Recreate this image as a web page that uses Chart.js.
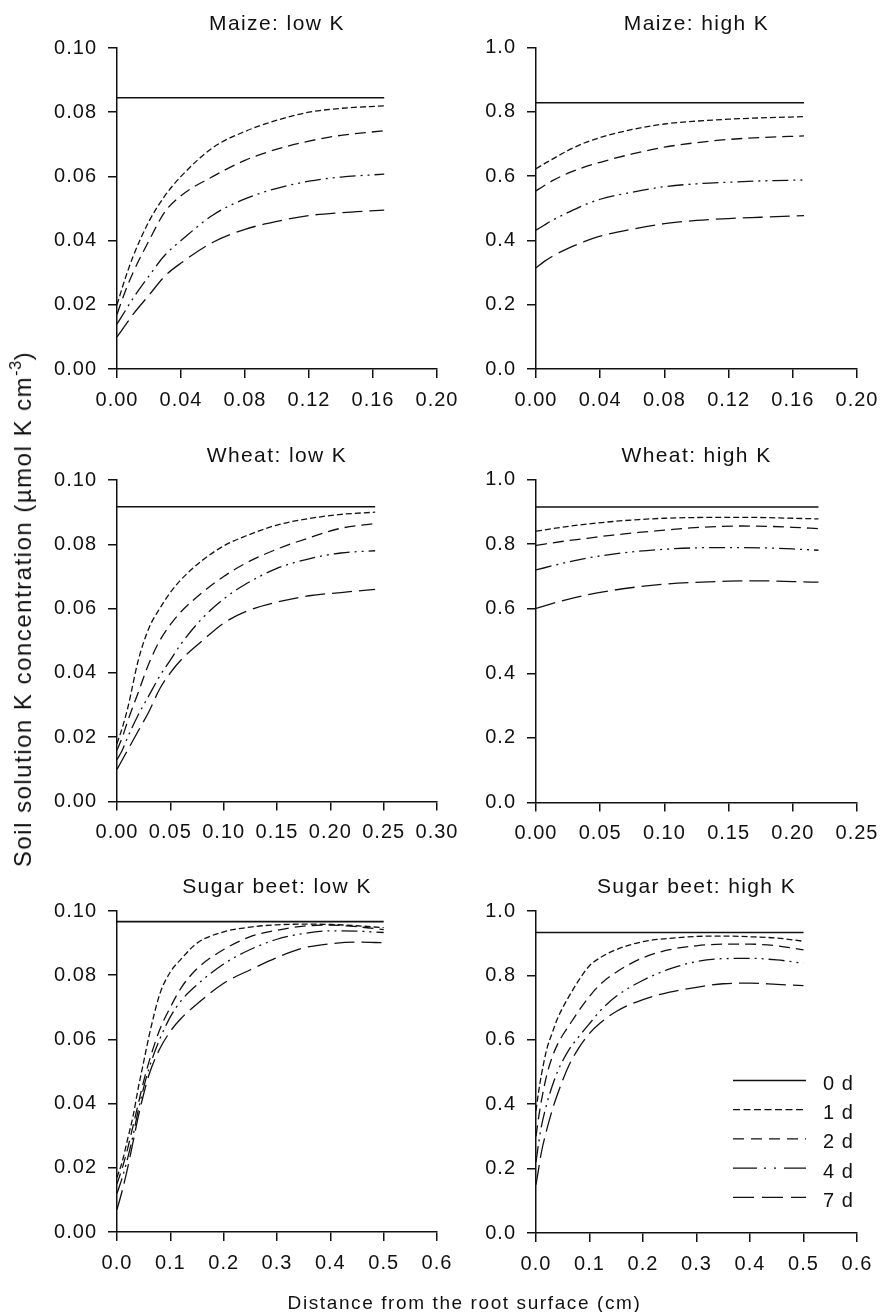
<!DOCTYPE html>
<html>
<head>
<meta charset="utf-8">
<script src="https://cdn.jsdelivr.net/npm/chart.js@4.4.1/dist/chart.umd.min.js"></script>
<style>
html,body{margin:0;padding:0;background:#fff;}
#wrap{position:relative;width:881px;height:1312px;overflow:hidden;background:#fff;}
#wrap canvas{position:absolute;}
.lbl{position:absolute;z-index:5;font-family:"Liberation Sans",Arial,sans-serif;color:#111;white-space:nowrap;line-height:1;}
#xlab{font-size:19px;letter-spacing:1.6px;left:464.5px;top:1292.5px;transform:translateX(-50%);}
#ylab{font-size:24px;letter-spacing:1.5px;left:23.4px;top:609px;transform:translate(-50%,-50%) rotate(-90deg);}
#ylab sup{font-size:0.68em;line-height:0;vertical-align:0.62em;letter-spacing:0.5px;}
</style>
</head>
<body>
<div id="wrap">
  <canvas id="c1" width="470" height="430"></canvas>
  <canvas id="c2" width="441" height="430"></canvas>
  <canvas id="c3" width="470" height="430"></canvas>
  <canvas id="c4" width="441" height="430"></canvas>
  <canvas id="c5" width="470" height="440"></canvas>
  <canvas id="c6" width="441" height="440"></canvas>
  <div class="lbl" id="xlab">Distance from the root surface (cm)</div>
  <div class="lbl" id="ylab">Soil solution K concentration (µmol K cm<sup>-3</sup>)</div>
</div>
<script>
// ---------------- DATA ----------------
const seriesNames = ['0 d', '1 d', '2 d', '4 d', '7 d'];

// Maize
const maizeX = [0, 0.005, 0.01, 0.02, 0.03, 0.04, 0.06, 0.08, 0.10, 0.12, 0.14, 0.167];
const maizeLow0d = [0.0845, 0.0845, 0.0845, 0.0845, 0.0845, 0.0845, 0.0845, 0.0845, 0.0845, 0.0845, 0.0845, 0.0845];
const maizeLow1d = [0.020, 0.028, 0.035, 0.046, 0.054, 0.060, 0.069, 0.074, 0.0775, 0.0800, 0.0812, 0.0820];
const maizeLow2d = [0.017, 0.024, 0.030, 0.040, 0.049, 0.054, 0.060, 0.065, 0.0685, 0.0710, 0.0728, 0.0742];
const maizeLow4d = [0.014, 0.018, 0.022, 0.029, 0.0355, 0.040, 0.048, 0.053, 0.0563, 0.0585, 0.0598, 0.0607];
const maizeLow7d = [0.010, 0.0135, 0.017, 0.023, 0.029, 0.033, 0.0395, 0.0435, 0.0460, 0.0478, 0.0487, 0.0495];

const maizeHigh0d = [0.828, 0.828, 0.828, 0.828, 0.828, 0.828, 0.828, 0.828, 0.828, 0.828, 0.828, 0.828];
const maizeHigh1d = [0.623, 0.638, 0.652, 0.680, 0.703, 0.720, 0.745, 0.762, 0.771, 0.777, 0.781, 0.785];
const maizeHigh2d = [0.554, 0.570, 0.585, 0.609, 0.628, 0.643, 0.669, 0.690, 0.704, 0.714, 0.720, 0.725];
const maizeHigh4d = [0.432, 0.447, 0.462, 0.487, 0.510, 0.528, 0.550, 0.567, 0.576, 0.581, 0.585, 0.588];
const maizeHigh7d = [0.315, 0.334, 0.350, 0.375, 0.396, 0.413, 0.435, 0.452, 0.462, 0.468, 0.472, 0.477];

// Wheat
const wheatLowX = [0, 0.005, 0.01, 0.02, 0.03, 0.04, 0.05, 0.06, 0.08, 0.10, 0.12, 0.15, 0.18, 0.21, 0.242];
const wheatLow0d = [0.0917, 0.0917, 0.0917, 0.0917, 0.0917, 0.0917, 0.0917, 0.0917, 0.0917, 0.0917, 0.0917, 0.0917, 0.0917, 0.0917, 0.0917];
const wheatLow1d = [0.018, 0.023, 0.029, 0.044, 0.054, 0.060, 0.065, 0.069, 0.075, 0.0795, 0.0825, 0.0860, 0.0880, 0.0893, 0.0900];
const wheatLow2d = [0.016, 0.020, 0.025, 0.034, 0.043, 0.050, 0.055, 0.059, 0.065, 0.0700, 0.0740, 0.0785, 0.0820, 0.0850, 0.0865];
const wheatLow4d = [0.013, 0.016, 0.020, 0.027, 0.033, 0.039, 0.044, 0.049, 0.057, 0.0630, 0.0675, 0.0725, 0.0755, 0.0773, 0.0780];
const wheatLow7d = [0.010, 0.013, 0.016, 0.022, 0.028, 0.035, 0.040, 0.044, 0.050, 0.0555, 0.0590, 0.0620, 0.0640, 0.0650, 0.0660];

const wheatHighX = [0, 0.02, 0.04, 0.06, 0.08, 0.10, 0.12, 0.14, 0.16, 0.18, 0.20, 0.22];
const wheatHigh0d = [0.915, 0.915, 0.915, 0.915, 0.915, 0.915, 0.915, 0.915, 0.915, 0.915, 0.915, 0.915];
const wheatHigh1d = [0.840, 0.852, 0.862, 0.870, 0.876, 0.880, 0.882, 0.883, 0.883, 0.882, 0.880, 0.878];
const wheatHigh2d = [0.796, 0.808, 0.818, 0.828, 0.836, 0.843, 0.850, 0.854, 0.856, 0.855, 0.852, 0.848];
const wheatHigh4d = [0.720, 0.740, 0.757, 0.769, 0.778, 0.784, 0.788, 0.789, 0.789, 0.788, 0.785, 0.781];
const wheatHigh7d = [0.601, 0.624, 0.643, 0.657, 0.668, 0.676, 0.681, 0.684, 0.686, 0.686, 0.684, 0.682];

// Sugar beet
const beetLowX = [0, 0.01, 0.02, 0.03, 0.04, 0.05, 0.06, 0.08, 0.10, 0.12, 0.15, 0.20, 0.25, 0.30, 0.35, 0.40, 0.45, 0.50];
const beetLow0d = [0.0967, 0.0967, 0.0967, 0.0967, 0.0967, 0.0967, 0.0967, 0.0967, 0.0967, 0.0967, 0.0967, 0.0967, 0.0967, 0.0967, 0.0967, 0.0967, 0.0967, 0.0967];
const beetLow1d = [0.017, 0.022, 0.029, 0.036, 0.045, 0.053, 0.061, 0.074, 0.081, 0.085, 0.090, 0.0935, 0.0950, 0.0957, 0.0959, 0.0958, 0.0954, 0.0948];
const beetLow2d = [0.015, 0.020, 0.026, 0.033, 0.040, 0.047, 0.053, 0.063, 0.070, 0.076, 0.082, 0.0880, 0.0920, 0.0940, 0.0953, 0.0956, 0.0951, 0.0942];
const beetLow4d = [0.012, 0.017, 0.023, 0.030, 0.038, 0.045, 0.051, 0.060, 0.067, 0.072, 0.077, 0.0835, 0.0880, 0.0912, 0.0930, 0.0938, 0.0937, 0.0933];
const beetLow7d = [0.007, 0.013, 0.020, 0.028, 0.036, 0.043, 0.049, 0.057, 0.0625, 0.0665, 0.0710, 0.0775, 0.0817, 0.0855, 0.0885, 0.0898, 0.0903, 0.0901];

const beetHighX = [0, 0.005, 0.01, 0.02, 0.03, 0.04, 0.05, 0.06, 0.08, 0.10, 0.12, 0.15, 0.20, 0.25, 0.30, 0.35, 0.40, 0.45, 0.50];
const beetHigh0d = [0.933, 0.933, 0.933, 0.933, 0.933, 0.933, 0.933, 0.933, 0.933, 0.933, 0.933, 0.933, 0.933, 0.933, 0.933, 0.933, 0.933, 0.933, 0.933];
const beetHigh1d = [0.38, 0.44, 0.49, 0.57, 0.62, 0.665, 0.70, 0.73, 0.785, 0.83, 0.855, 0.88, 0.905, 0.915, 0.921, 0.922, 0.920, 0.916, 0.906];
const beetHigh2d = [0.30, 0.36, 0.41, 0.49, 0.545, 0.585, 0.615, 0.64, 0.69, 0.735, 0.772, 0.81, 0.855, 0.88, 0.892, 0.897, 0.897, 0.892, 0.879];
const beetHigh4d = [0.22, 0.28, 0.33, 0.40, 0.455, 0.50, 0.535, 0.565, 0.61, 0.65, 0.69, 0.735, 0.785, 0.82, 0.843, 0.852, 0.853, 0.848, 0.838];
const beetHigh7d = [0.15, 0.20, 0.25, 0.32, 0.38, 0.43, 0.475, 0.515, 0.575, 0.62, 0.652, 0.688, 0.725, 0.748, 0.763, 0.774, 0.776, 0.772, 0.768];

// Tick labels
const yTicksLow  = ['0.00', '0.02', '0.04', '0.06', '0.08', '0.10'];
const yTicksHigh = ['0.0', '0.2', '0.4', '0.6', '0.8', '1.0'];
const xTicksMaize = ['0.00', '0.04', '0.08', '0.12', '0.16', '0.20'];
const xTicksWheatLow = ['0.00', '0.05', '0.10', '0.15', '0.20', '0.25', '0.30'];
const xTicksWheatHigh = ['0.00', '0.05', '0.10', '0.15', '0.20', '0.25'];
const xTicksBeet = ['0.0', '0.1', '0.2', '0.3', '0.4', '0.5', '0.6'];

// ---------------- STYLE / LAYOUT ----------------
const FONT = '"Liberation Sans", Arial, Helvetica, sans-serif';
const INK = '#111111';
const dashes = [[], [6, 3], [11, 6], [16, 5, 2, 5, 2, 5], [20, 7]];
const legendDashes = [[], [7, 3.5], [11, 7], [24, 7, 2, 8, 2, 8], [21, 8]];
const widths = [1.6, 1.3, 1.3, 1.3, 1.3];

const panels = [
  {id: 'c1', title: 'Maize: low K', x: maizeX, ys: [maizeLow0d, maizeLow1d, maizeLow2d, maizeLow4d, maizeLow7d],
   xt: xTicksMaize, yt: yTicksLow, cv: {x: 0, y: 0, w: 470, h: 430}, plot: {l: 117, t: 48, r: 437, b: 369}},
  {id: 'c2', title: 'Maize: high K', x: maizeX, ys: [maizeHigh0d, maizeHigh1d, maizeHigh2d, maizeHigh4d, maizeHigh7d],
   xt: xTicksMaize, yt: yTicksHigh, cv: {x: 440, y: 0, w: 441, h: 430}, plot: {l: 536, t: 47.5, r: 857, b: 369}},
  {id: 'c3', title: 'Wheat: low K', x: wheatLowX, ys: [wheatLow0d, wheatLow1d, wheatLow2d, wheatLow4d, wheatLow7d],
   xt: xTicksWheatLow, yt: yTicksLow, cv: {x: 0, y: 430, w: 470, h: 430}, plot: {l: 117, t: 480, r: 437, b: 801.5}},
  {id: 'c4', title: 'Wheat: high K', x: wheatHighX, ys: [wheatHigh0d, wheatHigh1d, wheatHigh2d, wheatHigh4d, wheatHigh7d],
   xt: xTicksWheatHigh, yt: yTicksHigh, cv: {x: 440, y: 430, w: 441, h: 430}, plot: {l: 536, t: 479.5, r: 857, b: 802.5}},
  {id: 'c5', title: 'Sugar beet: low K', x: beetLowX, ys: [beetLow0d, beetLow1d, beetLow2d, beetLow4d, beetLow7d],
   xt: xTicksBeet, yt: yTicksLow, cv: {x: 0, y: 860, w: 470, h: 440}, plot: {l: 117, t: 911, r: 437, b: 1232}},
  {id: 'c6', title: 'Sugar beet: high K', x: beetHighX, ys: [beetHigh0d, beetHigh1d, beetHigh2d, beetHigh4d, beetHigh7d],
   xt: xTicksBeet, yt: yTicksHigh, cv: {x: 440, y: 860, w: 441, h: 440}, plot: {l: 536, t: 911, r: 857, b: 1233}, legend: true}
];

const spacingPlugin = {
  id: 'spacing',
  beforeLayout(chart) { chart.ctx.letterSpacing = '1px'; },
  beforeDraw(chart) { chart.ctx.letterSpacing = '1px'; }
};

const titlePlugin = {
  id: 'panelTitle',
  afterDraw(chart, args, opts) {
    const ca = chart.chartArea, ctx = chart.ctx;
    ctx.save();
    ctx.letterSpacing = '1.4px';
    ctx.font = '21px ' + FONT;
    ctx.fillStyle = INK;
    ctx.textAlign = 'center';
    ctx.textBaseline = 'alphabetic';
    ctx.fillText(opts.text, (ca.left + ca.right) / 2, ca.top - 18);
    ctx.restore();
  }
};

const legendPlugin = {
  id: 'lineLegend',
  afterDraw(chart, args, opts) {
    if (!opts.show) return;
    const ca = chart.chartArea, ctx = chart.ctx;
    chart.data.datasets.forEach((ds, k) => {
      const y = ca.top + 169.5 + k * 29.2;
      ctx.save();
      ctx.strokeStyle = ds.borderColor;
      ctx.lineWidth = ds.borderWidth;
      ctx.setLineDash(legendDashes[k]);
      ctx.beginPath();
      ctx.moveTo(ca.left + 197, y);
      ctx.lineTo(ca.left + 270, y);
      ctx.stroke();
      ctx.setLineDash([]);
      ctx.fillStyle = INK;
      ctx.font = '20px ' + FONT;
      ctx.textAlign = 'left';
      ctx.textBaseline = 'middle';
      ctx.fillText(ds.label, ca.left + 287, y + 4);
      ctx.restore();
    });
  }
};

Chart.defaults.font.family = FONT;
Chart.defaults.color = INK;

panels.forEach(p => {
  const el = document.getElementById(p.id);
  el.style.left = p.cv.x + 'px';
  el.style.top = p.cv.y + 'px';
  el.style.width = p.cv.w + 'px';
  el.style.height = p.cv.h + 'px';
  const xv = p.xt.map(Number), yv = p.yt.map(Number);
  const XH = p.cv.y + p.cv.h - p.plot.b;
  const YW = p.plot.l - p.cv.x;
  const axisCommon = {
    grid: {display: true, drawOnChartArea: false, drawTicks: true, tickLength: 9, color: INK, lineWidth: 1.5},
    border: {display: true, color: INK, width: 1.5}
  };
  new Chart(el, {
    type: 'line',
    data: {
      datasets: p.ys.map((arr, k) => ({
        label: seriesNames[k],
        data: arr.map((v, i) => ({x: p.x[i], y: v})),
        borderColor: INK,
        borderWidth: widths[k],
        borderDash: dashes[k],
        pointRadius: 0,
        fill: false,
        cubicInterpolationMode: 'monotone'
      }))
    },
    options: {
      responsive: false,
      animation: false,
      devicePixelRatio: 1,
      layout: {padding: {left: 0, right: p.cv.x + p.cv.w - p.plot.r, top: p.plot.t - p.cv.y, bottom: 0}},
      plugins: {
        legend: {display: false},
        tooltip: {enabled: false},
        panelTitle: {text: p.title},
        lineLegend: {show: !!p.legend}
      },
      scales: {
        x: Object.assign({
          type: 'linear', min: xv[0], max: xv[xv.length - 1],
          afterBuildTicks: s => { s.ticks = xv.map(v => ({value: v})); },
          afterFit: s => { s.height = XH; s.paddingLeft = 0; s.paddingRight = 0; },
          ticks: {callback: (v, i) => p.xt[i], font: {family: FONT, size: 20}, color: INK, padding: 10, maxRotation: 0, autoSkip: false}
        }, axisCommon),
        y: Object.assign({
          type: 'linear', min: yv[0], max: yv[yv.length - 1],
          afterBuildTicks: s => { s.ticks = yv.map(v => ({value: v})); },
          afterFit: s => { s.width = YW; s.paddingTop = 0; s.paddingBottom = 0; },
          ticks: {callback: (v, i) => p.yt[i], font: {family: FONT, size: 20}, color: INK, padding: 11, autoSkip: false}
        }, axisCommon)
      }
    },
    plugins: [spacingPlugin, titlePlugin, legendPlugin]
  });
});
</script>
</body>
</html>
